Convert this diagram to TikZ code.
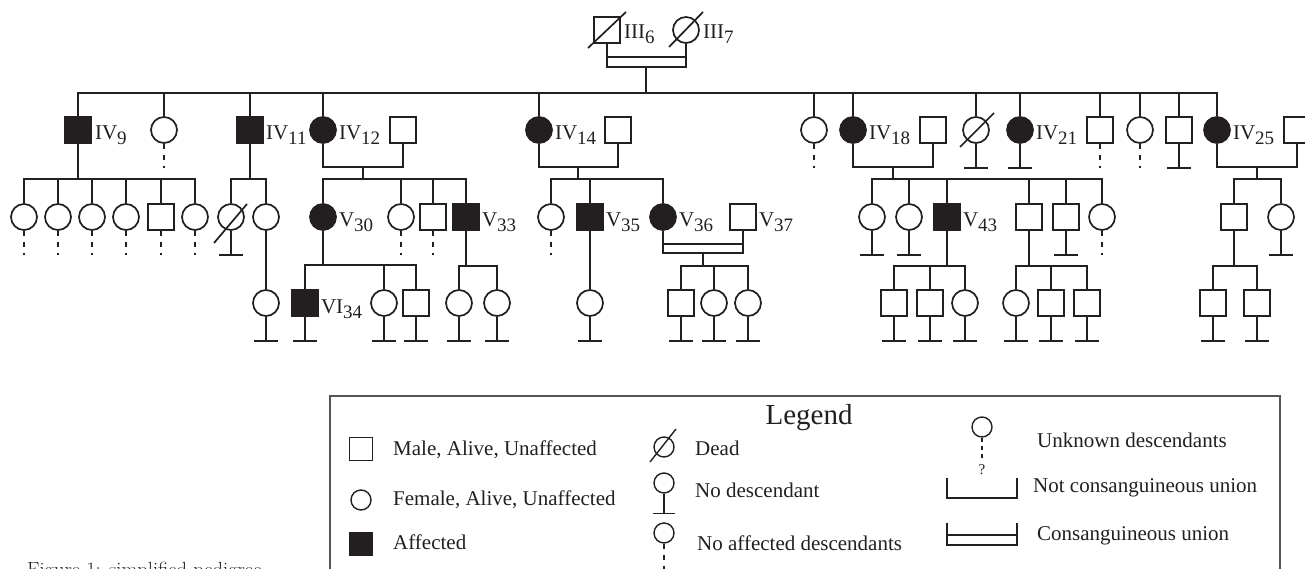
\documentclass[tikz,border=0pt]{standalone}
\usepackage{fontspec}
\newfontfamily\pedfont{Liberation Serif}
\definecolor{pc}{HTML}{231F20}
\definecolor{legc}{HTML}{555555}
\newcommand\pname[2]{#1\raisebox{-5pt}{\fontsize{19}{19}\selectfont #2}}
\newcommand\nodesc[1]{\draw[lnk] (#1.south) -- ++(0,24) ++(-12,0) -- ++(24,0);}
\newcommand\unkdesc[1]{\draw[unk] (#1.south) -- ++(0,24);}
\begin{document}
\begin{tikzpicture}[x=1pt,y=-1pt,
  ped/.style={draw=pc,line width=1.7pt,inner sep=0pt},
  male/.style={ped,rectangle,minimum size=26pt},
  female/.style={ped,circle,minimum size=26pt},
  aff/.style={fill=pc},
  lnk/.style={draw=pc,line width=1.7pt},
  unk/.style={lnk,dash pattern=on 5pt off 6pt},
  lab/.style={font=\pedfont\fontsize{21}{21}\selectfont,inner sep=0pt,anchor=base west,text=pc},
  ltext/.style={font=\pedfont\fontsize{21}{21}\selectfont,inner sep=0pt,anchor=base west,text=pc},
  lmale/.style={ped,rectangle,minimum size=23pt,line width=1.4pt},
  lfemale/.style={ped,circle,minimum size=20pt,line width=1.4pt},
  llnk/.style={draw=pc,line width=1.4pt},
]
\useasboundingbox (0,0) rectangle (1305,569);

% ---------- generation III ----------
\node[male] (iii6) at (607,30) {};
\node[female] (iii7) at (686,30) {};
\draw[lnk] ([shift={(-19,18)}]iii6.center) -- ([shift={(19,-18)}]iii6.center);
\draw[lnk] ([shift={(-17,17)}]iii7.center) -- ([shift={(17,-18)}]iii7.center);
\node[lab] (liii6) at ([shift={(3,9)}]iii6.east) {\pname{III}{6}};
\node[lab] (liii7) at ([shift={(3,9)}]iii7.east) {\pname{III}{7}};

% ---------- generation IV ----------
\node[male,aff] (iv9) at (78,130) {};
\node[female] (iv10) at (164,130) {};
\node[male,aff] (iv11) at (250,130) {};
\node[female,aff] (iv12) at (323,130) {};
\node[male] (sp12) at (403,130) {};
\node[female,aff] (iv14) at (539,130) {};
\node[male] (sp14) at (618,130) {};
\node[female] (iv16) at (814,130) {};
\node[female,aff] (iv18) at (853,130) {};
\node[male] (sp18) at (933,130) {};
\node[female] (iv19) at (976,130) {};
\node[female,aff] (iv21) at (1020,130) {};
\node[male] (iv22) at (1100,130) {};
\node[female] (iv23) at (1140,130) {};
\node[male] (iv24) at (1179,130) {};
\node[female,aff] (iv25) at (1217,130) {};
\node[male] (sp25) at (1297,130) {};
\draw[lnk] ([shift={(-16,17)}]iv19.center) -- ([shift={(18,-17)}]iv19.center);

\node[lab] (liv9) at ([shift={(3,10)}]iv9.east) {\pname{IV}{9}};
\node[lab] (liv11) at ([shift={(2,10)}]iv11.east) {\pname{IV}{11}};
\node[lab] (liv12) at ([shift={(2,10)}]iv12.east) {\pname{IV}{12}};
\node[lab] (liv14) at ([shift={(2,10)}]iv14.east) {\pname{IV}{14}};
\node[lab] (liv18) at ([shift={(2,10)}]iv18.east) {\pname{IV}{18}};
\node[lab] (liv21) at ([shift={(2,10)}]iv21.east) {\pname{IV}{21}};
\node[lab] (liv25) at ([shift={(2,10)}]iv25.east) {\pname{IV}{25}};

% union III6 x III7 (consanguineous)
\coordinate (c3) at (646,57);
\coordinate (m3) at (646,67);
\coordinate (s3) at (646,93);
\draw[lnk] (iii6.south) |- (m3) -| (iii7.south);
\draw[lnk] (iii6.south |- c3) -- (iii7.south |- c3);
\draw[lnk] (m3) -- (s3);
\draw[lnk] (iv9.north) |- (s3) -| (iv25.north);
\foreach \n in {iv10,iv11,iv12,iv14,iv16,iv18,iv19,iv21,iv22,iv23,iv24}
  {\draw[lnk] (\n.north) -- (\n.north |- s3);}

% marriages in IV
\coordinate (m12) at (363,167); \coordinate (s12) at (363,179);
\coordinate (m14) at (578,167); \coordinate (s14) at (578,179);
\coordinate (m18) at (893,167); \coordinate (s18) at (893,179);
\coordinate (m25) at (1257,167); \coordinate (s25) at (1257,179);
\coordinate (s9) at (78,179);
\coordinate (s11) at (250,179);
\draw[lnk] (iv12.south) |- (m12) -| (sp12.south);
\draw[lnk] (iv14.south) |- (m14) -| (sp14.south);
\draw[lnk] (iv18.south) |- (m18) -| (sp18.south);
\draw[lnk] (iv25.south) |- (m25) -| (sp25.south);
\draw[lnk] (m12) -- (s12);
\draw[lnk] (m14) -- (s14);
\draw[lnk] (m18) -- (s18);
\draw[lnk] (m25) -- (s25);
\draw[lnk] (iv9.south) -- (s9);
\draw[lnk] (iv11.south) -- (s11);

\unkdesc{iv10}\unkdesc{iv16}\unkdesc{iv22}\unkdesc{iv23}
\nodesc{iv19}\nodesc{iv21}\nodesc{iv24}

% ---------- generation V ----------
\node[female] (v1) at (24,217) {};
\node[female] (v2) at (58,217) {};
\node[female] (v3) at (92,217) {};
\node[female] (v4) at (126,217) {};
\node[male] (v5) at (161,217) {};
\node[female] (v6) at (195,217) {};
\node[female] (v7) at (231,217) {};
\node[female] (v8) at (266,217) {};
\node[female,aff] (v30) at (323,217) {};
\node[female] (v31) at (401,217) {};
\node[male] (v32) at (433,217) {};
\node[male,aff] (v33) at (466,217) {};
\node[female] (v34) at (551,217) {};
\node[male,aff] (v35) at (590,217) {};
\node[female,aff] (v36) at (663,217) {};
\node[male] (v37) at (743,217) {};
\node[female] (v38) at (872,217) {};
\node[female] (v39) at (909,217) {};
\node[male,aff] (v43) at (947,217) {};
\node[male] (v44) at (1029,217) {};
\node[male] (v45) at (1066,217) {};
\node[female] (v46) at (1102,217) {};
\node[male] (v47) at (1234,217) {};
\node[female] (v48) at (1281,217) {};
\draw[lnk] ([shift={(-17,26)}]v7.center) -- ([shift={(16,-13)}]v7.center);

\node[lab] (lv30) at ([shift={(2,10)}]v30.east) {\pname{V}{30}};
\node[lab] (lv33) at ([shift={(2,10)}]v33.east) {\pname{V}{33}};
\node[lab] (lv35) at ([shift={(2,10)}]v35.east) {\pname{V}{35}};
\node[lab] (lv36) at ([shift={(2,10)}]v36.east) {\pname{V}{36}};
\node[lab] (lv37) at ([shift={(2,10)}]v37.east) {\pname{V}{37}};
\node[lab] (lv43) at ([shift={(2,10)}]v43.east) {\pname{V}{43}};

% sibships in V
\draw[lnk] (v1.north) |- (s9) -| (v6.north);
\foreach \n in {v2,v3,v4,v5} {\draw[lnk] (\n.north) -- (\n.north |- s9);}
\draw[lnk] (v7.north) |- (s11) -| (v8.north);
\draw[lnk] (v30.north) |- (s12) -| (v33.north);
\foreach \n in {v31,v32} {\draw[lnk] (\n.north) -- (\n.north |- s12);}
\draw[lnk] (v34.north) |- (s14) -| (v36.north);
\draw[lnk] (v35.north) -- (v35.north |- s14);
\draw[lnk] (v38.north) |- (s18) -| (v46.north);
\foreach \n in {v39,v43,v44,v45} {\draw[lnk] (\n.north) -- (\n.north |- s18);}
\draw[lnk] (v47.north) |- (s25) -| (v48.north);

\unkdesc{v1}\unkdesc{v2}\unkdesc{v3}\unkdesc{v4}\unkdesc{v5}\unkdesc{v6}
\unkdesc{v31}\unkdesc{v32}\unkdesc{v34}\unkdesc{v46}
\nodesc{v7}\nodesc{v38}\nodesc{v39}\nodesc{v45}\nodesc{v48}

% union V36 x V37 (consanguineous)
\coordinate (c36) at (703,244);
\coordinate (m36) at (703,253);
\coordinate (s36) at (703,266);
\draw[lnk] (v36.south) |- (m36) -| (v37.south);
\draw[lnk] (v36.south |- c36) -- (v37.south |- c36);
\draw[lnk] (m36) -- (s36);

% ---------- generation VI ----------
\node[female] (w1) at (266,303) {};
\node[male,aff] (vi34) at (305,303) {};
\node[female] (w2) at (384,303) {};
\node[male] (w3) at (416,303) {};
\node[female] (w4) at (459,303) {};
\node[female] (w5) at (497,303) {};
\node[female] (w6) at (590,303) {};
\node[male] (w7) at (681,303) {};
\node[female] (w8) at (714,303) {};
\node[female] (w9) at (748,303) {};
\node[male] (w10) at (894,303) {};
\node[male] (w11) at (930,303) {};
\node[female] (w12) at (965,303) {};
\node[female] (w13) at (1016,303) {};
\node[male] (w14) at (1051,303) {};
\node[male] (w15) at (1087,303) {};
\node[male] (w16) at (1213,303) {};
\node[male] (w17) at (1257,303) {};
\node[lab] (lvi34) at ([shift={(2,10)}]vi34.east) {\pname{VI}{34}};

\coordinate (s30) at (323,265);
\coordinate (s33) at (466,266);
\coordinate (s43) at (947,266);
\coordinate (s44) at (1029,266);
\coordinate (s47) at (1234,266);
\draw[lnk] (v8.south) -- (w1.north);
\draw[lnk] (v35.south) -- (w6.north);
\draw[lnk] (v30.south) -- (s30);
\draw[lnk] (vi34.north) |- (s30) -| (w3.north);
\draw[lnk] (w2.north) -- (w2.north |- s30);
\draw[lnk] (v33.south) -- (s33);
\draw[lnk] (w4.north) |- (s33) -| (w5.north);
\draw[lnk] (w7.north) |- (s36) -| (w9.north);
\draw[lnk] (w8.north) -- (w8.north |- s36);
\draw[lnk] (v43.south) -- (s43);
\draw[lnk] (w10.north) |- (s43) -| (w12.north);
\draw[lnk] (w11.north) -- (w11.north |- s43);
\draw[lnk] (v44.south) -- (s44);
\draw[lnk] (w13.north) |- (s44) -| (w15.north);
\draw[lnk] (w14.north) -- (w14.north |- s44);
\draw[lnk] (v47.south) -- (s47);
\draw[lnk] (w16.north) |- (s47) -| (w17.north);
\foreach \n in {w1,vi34,w2,w3,w4,w5,w6,w7,w8,w9,w10,w11,w12,w13,w14,w15,w16,w17}
  {\nodesc{\n}}

% ---------- legend ----------
\draw[draw=legc,line width=1.3pt] (330,396) rectangle (1280,640);
\node[font=\pedfont\fontsize{29}{29}\selectfont,inner sep=0pt,anchor=base,text=pc] (ltitle) at (809,424) {Legend};

\node[lmale] (lm) at (361,449) {};
\node[lfemale] (lf) at (361,500) {};
\node[lmale,aff] (la) at (361,544) {};
\node[ltext] (tm) at (393,455) {Male, Alive, Unaffected};
\node[ltext] (tf) at (393,505) {Female, Alive, Unaffected};
\node[ltext] (ta) at (393,549) {Affected};

\node[lfemale] (ld) at (664,447) {};
\draw[llnk] ([shift={(-14,15)}]ld.center) -- ([shift={(12,-18)}]ld.center);
\node[lfemale] (ln) at (664,483) {};
\draw[llnk] (ln.south) -- ++(0,20) ++(-11,0) -- ++(22,0);
\node[lfemale] (lu) at (664,533) {};
\draw[llnk,dash pattern=on 5pt off 6pt] (lu.south) -- ++(0,40);
\node[ltext] (td) at (695,455) {Dead};
\node[ltext] (tn) at (695,497) {No descendant};
\node[ltext] (tu) at (697,550) {No affected descendants};

\node[lfemale] (lk) at (982,427) {};
\draw[llnk,dash pattern=on 4pt off 4pt] (lk.south) -- ++(0,20);
\node[font=\pedfont\fontsize{15}{15}\selectfont,inner sep=0pt,text=pc] (lq) at (982,470) {?};
\coordinate (nc1) at (947,478);
\coordinate (nc2) at (1017,478);
\coordinate (nc3) at (982,498);
\draw[llnk] (nc1) |- (nc3) -| (nc2);
\coordinate (cu1) at (947,523);
\coordinate (cu2) at (1017,523);
\coordinate (cu3) at (982,545);
\coordinate (cu4) at (982,535);
\draw[llnk] (cu1) |- (cu3) -| (cu2);
\draw[llnk] (cu1 |- cu4) -- (cu2 |- cu4);
\node[ltext] (tk) at (1037,447) {Unknown descendants};
\node[ltext] (tnc) at (1033,492) {Not consanguineous union};
\node[ltext] (tcu) at (1037,540) {Consanguineous union};

% ---------- caption ----------
\node[font=\fontsize{20.5}{21}\selectfont,inner sep=0pt,anchor=base west,text=pc] (cap) at (27,576) {Figure 1: simplified pedigree};
\end{tikzpicture}
\end{document}
